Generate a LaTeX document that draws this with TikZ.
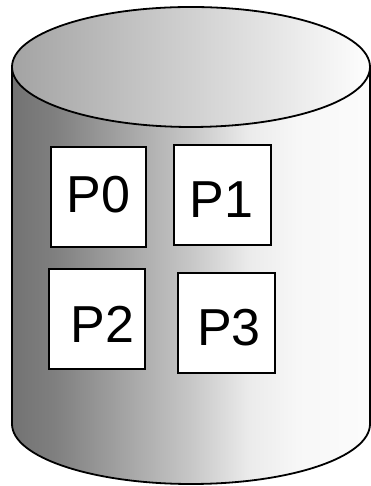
\documentclass[tikz,border=0pt]{standalone}
\usepackage{fontspec}
\setmainfont{Liberation Sans}
\definecolor{gA}{gray}{0.45}
\definecolor{gB}{gray}{0.50}
\definecolor{gC}{gray}{0.78}
\definecolor{gD}{gray}{0.92}
\definecolor{gE}{gray}{0.97}
\definecolor{gF}{gray}{0.985}
\definecolor{tA}{gray}{0.64}
\definecolor{tB}{gray}{0.995}
\pgfdeclarehorizontalshading{cylbody}{100bp}{color(0bp)=(gA); color(25bp)=(gA); color(31bp)=(gB); color(50bp)=(gC); color(58bp)=(gD); color(65bp)=(gE); color(75bp)=(gF); color(100bp)=(gF)}
\pgfdeclarehorizontalshading{cyltop}{100bp}{color(0bp)=(tA); color(25bp)=(tA); color(75bp)=(tB); color(100bp)=(tB)}
\tikzset{
  outline/.style={draw=black, line width=1.8pt},
  pbox/.style={draw=black, line width=1.8pt, fill=white, inner sep=0pt},
  ptext/.style={inner sep=0pt, font=\fontsize{52}{60}\selectfont}
}
\begin{document}
\begin{tikzpicture}[x=1pt,y=1pt]
\useasboundingbox (0,0) rectangle (371,486);
% body
\path[shading=cylbody, outline] (12,419) -- (12,62) arc[start angle=180, end angle=360, x radius=179, y radius=60] -- (370,419) -- cycle;
% top
\path[shading=cyltop, outline] (191,419) ellipse [x radius=179, y radius=60];
% boxes
\node[pbox, minimum width=95.3pt, minimum height=100pt] (b0) at (98.3,289.3) {};
\node[pbox, minimum width=96.7pt, minimum height=100.3pt] (b1) at (222.3,290.8) {};
\node[pbox, minimum width=96pt, minimum height=100.3pt] (b2) at (97,166.8) {};
\node[pbox, minimum width=96.7pt, minimum height=100pt] (b3) at (226.7,162.7) {};
% labels
\node[ptext] (t0) at (98.5,291) {P0};
\node[ptext] (t1) at (221.7,286) {P1};
\node[ptext] (t2) at (102.8,161.5) {P2};
\node[ptext] (t3) at (228.8,158) {P3};
\end{tikzpicture}
\end{document}
